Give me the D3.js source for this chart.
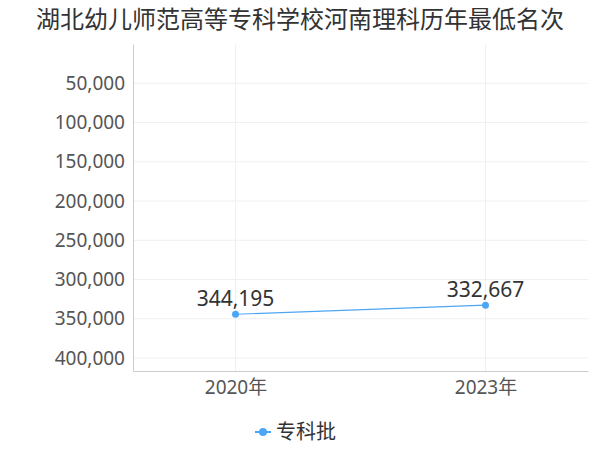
<!DOCTYPE html>
<html><head><meta charset="utf-8">
<script src="https://cdn.jsdelivr.net/npm/d3@7"></script>
<style>body{margin:0;background:#fff;font-family:"Noto Sans CJK SC","Noto Sans",sans-serif;}</style>
</head><body>
<svg id="chart" width="600" height="450"></svg>
<script>
var title = "湖北幼儿师范高等专科学校河南理科历年最低名次";
var years = ["2020年", "2023年"];
var seriesName = "专科批";
var ranks = [344195, 332667];
var yTicks = [50000, 100000, 150000, 200000, 250000, 300000, 350000, 400000];

var svg = d3.select("#chart");
var plotLeft = 133, plotRight = 588, plotTop = 44, plotBottom = 371;

var x = d3.scalePoint().domain(years).range([plotLeft, plotRight]).padding(0.41);
var y = d3.scaleLinear().domain([0, 416500]).range([plotTop, plotBottom]);

svg.append("text").attr("x", 300).attr("y", 28).attr("text-anchor", "middle")
    .style("font-size", "24px").attr("fill", "#333").text(title);

// grid
svg.selectAll(".hg").data(yTicks).enter().append("line")
    .attr("x1", plotLeft).attr("x2", plotRight)
    .attr("y1", function(d) { return y(d); }).attr("y2", function(d) { return y(d); })
    .attr("stroke", "#f0f0f0");
svg.selectAll(".vg").data(years).enter().append("line")
    .attr("y1", plotTop).attr("y2", plotBottom)
    .attr("x1", function(d) { return x(d); }).attr("x2", function(d) { return x(d); })
    .attr("stroke", "#f0f0f0");

// axes
var yAxis = svg.append("g").attr("transform", "translate(" + plotLeft + ",0)")
    .call(d3.axisLeft(y).tickValues(yTicks).tickSize(0).tickPadding(8).tickFormat(d3.format(",")));
yAxis.select(".domain").attr("stroke", "#ccc");
yAxis.selectAll("text").style("font-size", "19px").attr("fill", "#555")
    .style("font-family", "'Noto Sans','Noto Sans CJK SC',sans-serif");

var xAxis = svg.append("g").attr("transform", "translate(0," + plotBottom + ")")
    .call(d3.axisBottom(x).tickSize(0).tickPadding(10));
xAxis.select(".domain").attr("stroke", "#ccc");
xAxis.selectAll("text").style("font-size", "19px").attr("fill", "#555")
    .style("font-family", "'Noto Sans','Noto Sans CJK SC',sans-serif");

var data = years.map(function(d, i) { return {year: d, rank: ranks[i]}; });

svg.append("path").datum(data)
    .attr("fill", "none").attr("stroke", "#4da6f5").attr("stroke-width", 1.2)
    .attr("d", d3.line().x(function(d) { return x(d.year); }).y(function(d) { return y(d.rank); }));

svg.selectAll(".pt").data(data).enter().append("circle")
    .attr("cx", function(d) { return x(d.year); }).attr("cy", function(d) { return y(d.rank); })
    .attr("r", 3.5).attr("fill", "#4da6f5");

svg.selectAll(".lbl").data(data).enter().append("text")
    .attr("x", function(d) { return x(d.year); }).attr("y", function(d) { return y(d.rank) - 8; })
    .attr("text-anchor", "middle").style("font-size", "21px").attr("fill", "#333")
    .style("font-family", "'Noto Sans',sans-serif")
    .text(function(d) { return d3.format(",")(d.rank); });

// legend
var lg = svg.append("g").attr("transform", "translate(263,432)");
lg.append("line").attr("x1", -8).attr("x2", 8).attr("stroke", "#4da6f5").attr("stroke-width", 2);
lg.append("circle").attr("r", 4).attr("fill", "#4da6f5");
lg.append("text").attr("x", 13).attr("y", 7).style("font-size", "20px").attr("fill", "#333").text(seriesName);
</script>
</body></html>
